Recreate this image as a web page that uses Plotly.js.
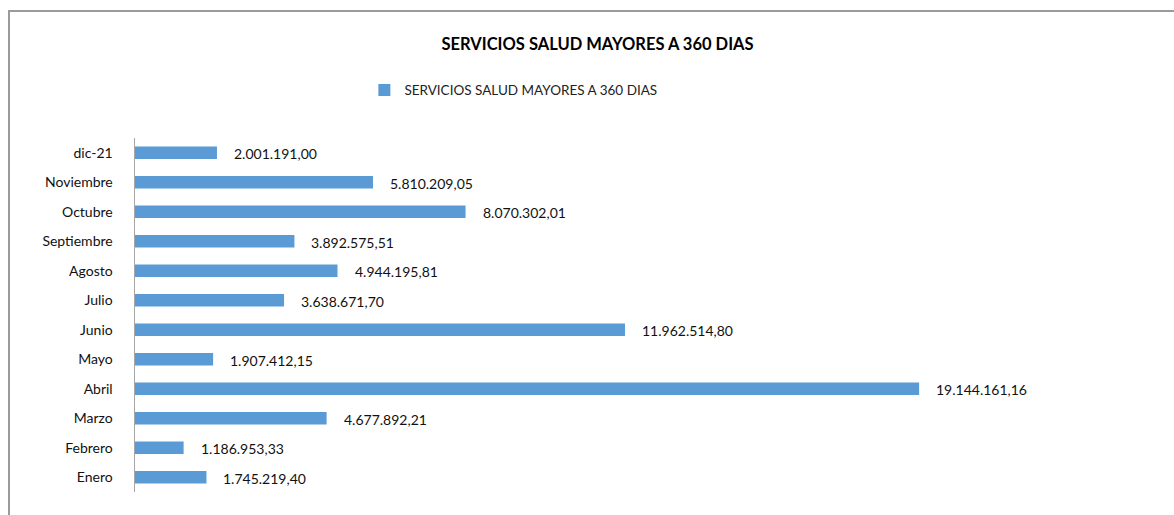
<!DOCTYPE html>
<html>
<head>
<meta charset="utf-8">
<script src="https://cdn.plot.ly/plotly-3.0.1.min.js"></script>
<style>
  body { margin: 0; background: #fff; }
  #chart { width: 1174px; height: 515px; }
  #frame {
    position: absolute; left: 8px; top: 10px; right: 0; bottom: 0;
    border-left: 2px solid #9a9a9a; border-top: 2px solid #9a9a9a;
    pointer-events: none;
  }
</style>
</head>
<body>
<div id="chart"></div>
<div id="frame"></div>
<script>
// meses, de abajo hacia arriba como en el grafico
var meses = ['Enero', 'Febrero', 'Marzo', 'Abril', 'Mayo', 'Junio',
             'Julio', 'Agosto', 'Septiembre', 'Octubre', 'Noviembre', 'dic-21'];
var valores = [1745219.40, 1186953.33, 4677892.21, 19144161.16, 1907412.15, 11962514.80,
               3638671.70, 4944195.81, 3892575.51, 8070302.01, 5810209.05, 2001191.00];
var serie = 'SERVICIOS SALUD MAYORES A 360 DIAS';

// formato 1.234.567,89
function fmt(v) {
  var p = v.toFixed(2).split('.');
  return p[0].replace(/\B(?=(\d{3})+(?!\d))/g, '.') + ',' + p[1];
}

var fuente = {family: 'Lato, "Open Sans", sans-serif', size: 14, color: '#111'};

var data = [{
  type: 'bar',
  orientation: 'h',
  name: serie,
  y: meses,
  x: valores,
  marker: {color: '#5B9BD5'},
  hoverinfo: 'x+y'
}];

var notas = meses.map(function (m, i) {
  return {
    x: valores[i], y: m, xref: 'x', yref: 'y',
    text: fmt(valores[i]), showarrow: false,
    xanchor: 'left', xshift: 15, yshift: -1,
    font: fuente
  };
});

var layout = {
  width: 1174,
  height: 515,
  margin: {l: 135, r: 15, t: 138, b: 23},
  paper_bgcolor: '#fff',
  plot_bgcolor: '#fff',
  title: {
    text: '<b>' + serie + '</b>',
    x: 0.509, xanchor: 'center',
    y: 0.915, yanchor: 'middle',
    font: {family: 'Lato, "Open Sans", sans-serif', size: 16.5, color: '#000'}
  },
  showlegend: true,
  legend: {
    orientation: 'h',
    x: 0.224, xanchor: 'left',
    y: 0.825, yref: 'container', yanchor: 'middle',
    font: {family: 'Lato, "Open Sans", sans-serif', size: 13.5, color: '#222'},
    itemwidth: 30
  },
  bargap: 0.58,
  xaxis: {
    range: [0, 25000000],
    showgrid: false,
    zeroline: false,
    showticklabels: false,
    showline: false,
    fixedrange: true
  },
  yaxis: {
    showline: true,
    linecolor: '#a6a6a6',
    linewidth: 1.5,
    ticks: 'outside',
    ticklen: 18,
    tickcolor: 'rgba(0,0,0,0)',
    showgrid: false,
    tickfont: fuente,
    fixedrange: true
  },
  annotations: notas
};

Plotly.newPlot('chart', data, layout, {displayModeBar: false, staticPlot: true});
</script>
</body>
</html>
